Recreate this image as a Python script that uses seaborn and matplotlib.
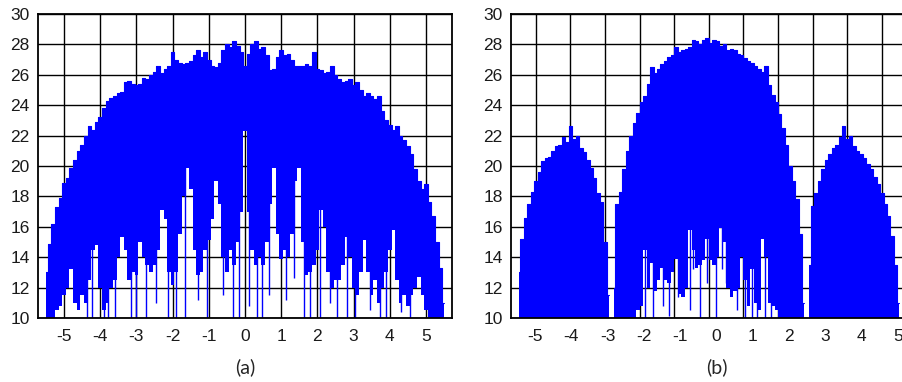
import numpy as np
import pandas as pd
import matplotlib
matplotlib.use("Agg")
import matplotlib.pyplot as plt
import seaborn as sns

# ---- panel (a): envelope of the spectrum, sampled every 0.1 ----
x_a = np.round(np.arange(-5.5, 5.51, 0.1), 2)
top_a = [13.0, 14.9, 16.2, 17.3, 17.9, 18.9, 19.2, 19.9, 20.4, 21.0,
         21.4, 22.0, 22.6, 22.4, 22.9, 23.2, 23.8, 24.3, 24.5, 24.6,
         24.8, 24.9, 25.5, 25.6, 25.4, 25.3, 25.4, 25.8, 25.7, 26.0,
         26.2, 26.6, 26.1, 26.4, 26.6, 27.5, 27.0, 26.8, 26.7, 26.8,
         26.9, 27.3, 27.6, 27.2, 27.5, 27.0, 26.6, 26.5, 26.8, 27.6,
         28.0, 27.8, 28.2, 27.9, 27.5, 26.6, 27.4, 28.0, 28.2, 27.7,
         27.8, 27.3, 26.3, 26.4, 27.2, 27.6, 27.3, 27.4, 27.0, 26.6,
         26.6, 26.6, 26.7, 26.6, 27.5, 26.4, 26.3, 26.1, 26.2, 26.6,
         26.0, 25.7, 25.5, 25.6, 25.7, 25.3, 25.5, 25.0, 24.6, 24.8,
         24.6, 24.4, 24.6, 23.6, 23.0, 22.7, 22.4, 22.6, 22.0, 21.7,
         21.3, 20.8, 19.8, 19.0, 18.5, 18.8, 17.6, 16.7, 15.0, 13.3,
         11.0]
floor_a = [10.0, 10.0, 10.0, 10.5, 10.8, 11.5, 12.0, 13.2, 11.0, 10.5,
           11.5, 11.0, 12.5, 14.5, 14.8, 12.0, 10.5, 11.0, 12.0, 12.5,
           14.0, 15.3, 14.5, 12.5, 13.0, 12.8, 15.0, 14.0, 13.5, 13.0,
           13.5, 14.5, 17.1, 16.5, 13.0, 12.2, 13.0, 15.5, 18.0, 19.9,
           18.5, 14.5, 12.8, 13.0, 14.5, 15.1, 16.5, 19.0, 17.5, 14.0,
           13.0, 14.5, 13.5, 15.0, 17.0, 22.3, 17.0, 14.5, 13.5, 14.0,
           13.5, 15.0, 17.5, 19.9, 15.5, 13.9, 14.5, 14.0, 15.5, 19.0,
           19.9, 15.0, 12.8, 13.0, 13.5, 14.5, 17.1, 16.0, 13.0, 12.0,
           12.5, 12.5, 13.5, 15.3, 14.0, 12.0, 11.5, 13.0, 15.1, 13.0,
           11.5, 12.5, 11.0, 12.0, 13.0, 14.5, 15.8, 12.5, 11.0, 11.5,
           10.8, 11.5, 12.0, 12.7, 11.5, 10.5, 10.0, 10.0, 10.0, 10.0,
           10.0]
# thin downward spikes below the body: position and lowest value
spike_x_a = [-4.36, -4.24, -3.91, -3.78, -3.59, -3.16, -3.00, -2.73, -2.45,
             -2.12, -1.90, -1.66, -1.30, -1.06, -0.60, -0.32, -0.17, 0.12,
             0.32, 0.46, 0.65, 1.12, 1.35, 1.63, 1.80, 2.07, 2.35, 2.53,
             2.81, 3.04, 3.45, 3.73, 3.91, 4.30, 4.55]
spike_lo_a = [10.0, 10.0, 10.0, 10.0, 10.0, 10.0, 10.0, 10.0, 11.0,
              10.0, 10.0, 10.0, 11.2, 10.0, 11.5, 10.0, 10.0, 10.8,
              10.0, 10.0, 11.5, 11.2, 12.6, 10.0, 10.0, 10.0, 11.0, 10.0,
              10.0, 10.0, 10.5, 10.0, 10.0, 10.4, 10.0]

# ---- panel (b): three lobes ----
x_b_left = np.round(np.arange(-5.5, -2.89, 0.1), 2)
top_b_left = [13.0, 15.2, 16.6, 17.5, 18.3, 19.0, 19.6, 20.3, 20.5, 20.6,
              21.0, 21.3, 21.4, 21.9, 21.6, 22.6, 21.8, 22.0, 21.2, 20.9,
              20.4, 19.9, 19.2, 18.2, 17.6, 15.0, 11.5]
x_b_mid = np.round(np.arange(-2.75, 2.76, 0.1), 2)
top_b_mid = [12.0, 17.5, 18.3, 19.8, 21.0, 22.0, 22.8, 23.5, 24.2, 24.6,
             25.4, 26.5, 26.1, 26.4, 26.7, 26.9, 27.2, 27.3, 27.8, 27.5,
             27.6, 27.7, 27.8, 28.3, 28.2, 28.0, 28.3, 28.4, 28.1, 28.3,
             28.2, 27.9, 28.0, 27.6, 27.7, 27.6, 27.4, 27.3, 27.1, 26.9,
             26.8, 26.6, 26.4, 26.2, 26.6, 25.3, 24.7, 24.2, 23.4, 22.5,
             21.4, 20.0, 19.0, 17.8, 15.5, 11.0]
floor_b_mid = [10.0, 10.0, 10.0, 10.0, 10.0, 10.0, 10.0, 10.5, 10.8, 14.5,
               12.0, 13.6, 11.8, 12.5, 13.3, 12.5, 12.3, 13.0, 13.9, 11.6,
               11.4, 12.0, 15.8, 14.5, 13.3, 13.5, 13.8, 15.2, 13.8, 13.5,
               14.0, 15.9, 15.0, 12.0, 11.4, 11.8, 12.0, 14.0, 12.5, 10.8,
               13.2, 11.0, 10.5, 15.2, 14.0, 11.0, 10.8, 10.5, 10.0, 10.0,
               10.0, 10.0, 10.0, 10.0, 10.0, 10.0]
x_b_right = np.round(np.arange(2.9, 5.51, 0.1), 2)
top_b_right = [13.5, 17.4, 18.2, 19.0, 19.8, 20.4, 20.8, 21.2, 21.4, 21.9,
               22.6, 21.8, 22.0, 21.3, 21.0, 20.8, 20.5, 20.1, 19.8, 19.3,
               18.8, 18.2, 17.5, 16.7, 15.4, 13.5, 11.0]
spike_x_b = [-1.85, -1.61, -1.34, -1.15, -0.89, -0.55, -0.45, -0.26, -0.06,
             0.22, 0.37, 0.51, 0.80, 1.04, 1.24, 1.38, 1.62, 1.81]
spike_lo_b = [10.0, 10.0, 10.8, 10.1, 11.4, 10.5, 13.2, 10.0, 12.3,
              10.0, 13.2, 12.3, 10.5, 10.0, 10.0, 10.0, 10.0, 10.0]

yticks = list(range(10, 31, 2))
xticks = list(range(-5, 6))

BLUE = "#0000ff"

sns.set_style("white")
plt.rcParams["font.family"] = ["Liberation Sans", "DejaVu Sans"]
plt.rcParams["axes.unicode_minus"] = False

fig = plt.figure(figsize=(9.02, 3.82), dpi=100)
ax_a = fig.add_axes([38 / 902, 64 / 382, 414 / 902, 304 / 382])
ax_b = fig.add_axes([511 / 902, 64 / 382, 395.7 / 902, 304 / 382])


def style_axes(ax):
    ax.set_xlim(-5.72, 5.72)
    ax.set_ylim(10, 30)
    ax.set_yticks(yticks)
    ax.set_xticks(xticks)
    ax.grid(True, color="black", linewidth=1.0)
    ax.set_axisbelow(True)
    ax.tick_params(length=0, labelsize=12.5, colors="#1a1a1a")
    ax.tick_params(axis="x", pad=8)
    ax.tick_params(axis="y", pad=6)
    for sp in ax.spines.values():
        sp.set_visible(True)
        sp.set_color("black")
        sp.set_linewidth(1.3)
    ax.set_xlabel("")
    ax.set_ylabel("")


def draw_lobe(ax, x, top, floor):
    ax.fill_between(x, floor, top, step="mid", color=BLUE, linewidth=0)
    df = pd.DataFrame({"x": x, "y": top})
    sns.lineplot(data=df, x="x", y="y", ax=ax, color=BLUE, linewidth=0.8,
                 drawstyle="steps-mid", estimator=None, sort=False)


# (a)
draw_lobe(ax_a, x_a, top_a, floor_a)
ax_a.vlines(spike_x_a, spike_lo_a, 20, color=BLUE, linewidth=1.0)
style_axes(ax_a)

# (b)
draw_lobe(ax_b, x_b_left, top_b_left, [10.0] * len(x_b_left))
draw_lobe(ax_b, x_b_mid, top_b_mid, floor_b_mid)
draw_lobe(ax_b, x_b_right, top_b_right, [10.0] * len(x_b_right))
ax_b.vlines(spike_x_b, spike_lo_b, 17, color=BLUE, linewidth=1.0)
style_axes(ax_b)
# the printed labels of (b) sit on a slightly wider spacing than its grid
ax_b.tick_params(axis="x", labelbottom=False)
sec = ax_b.secondary_xaxis("bottom",
                           functions=(lambda g: (g - 0.2256) / 1.05,
                                      lambda k: 0.2256 + 1.05 * k))
sec.set_xticks(xticks)
sec.tick_params(length=0, labelsize=12.5, colors="#1a1a1a", pad=8)
sec.spines["bottom"].set_visible(False)

fig.text(245 / 902, 1 - 367 / 382, "(a)", ha="center", va="center",
         fontsize=14, family=["Lato", "DejaVu Sans"])
fig.text(716.7 / 902, 1 - 367 / 382, "(b)", ha="center", va="center",
         fontsize=14, family=["Lato", "DejaVu Sans"])

fig.savefig("out.png", dpi=100)
